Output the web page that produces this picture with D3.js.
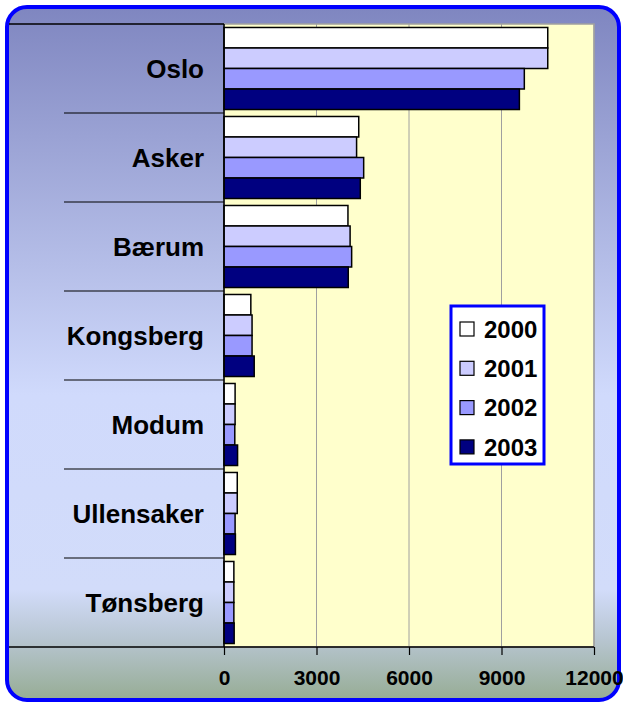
<!DOCTYPE html>
<html><head><meta charset="utf-8">
<script src="https://cdn.jsdelivr.net/npm/d3@7"></script>
<style>html,body{margin:0;padding:0;background:#fff;}svg{display:block;}</style>
</head><body>
<script>
const categories = ["Oslo","Asker","Bærum","Kongsberg","Modum","Ullensaker","Tønsberg"];
const years = ["2000","2001","2002","2003"];
const v2000 = [10500, 4370, 4020, 870, 360, 430, 320];
const v2001 = [10500, 4300, 4090, 910, 360, 430, 320];
const v2002 = [9740, 4530, 4140, 910, 350, 360, 320];
const v2003 = [9580, 4420, 4030, 980, 440, 370, 330];
const xTicks = [0, 3000, 6000, 9000, 12000];
const colors = ["#ffffff","#ccccff","#9999ff","#000080"];

const series = [v2000, v2001, v2002, v2003];
const W = 623, H = 704;
const svg = d3.select("body").append("svg").attr("width", W).attr("height", H);

const defs = svg.append("defs");
const grad = defs.append("linearGradient").attr("id","bg").attr("x1",0).attr("y1",0).attr("x2",0).attr("y2",1);
[[0,"#7f86c0"],[0.56,"#d0dafc"],[0.84,"#d2dcfa"],[0.91,"#b8c6d2"],[1,"#96ac94"]].forEach(s=>grad.append("stop").attr("offset",s[0]).attr("stop-color",s[1]));

svg.append("rect").attr("x",7).attr("y",7).attr("width",612).attr("height",693).attr("rx",20).attr("ry",20)
  .attr("fill","url(#bg)").attr("stroke","#0000ff").attr("stroke-width",4);

const x0 = 224, x1 = 594, yTop = 24, yBot = 647;
const x = d3.scaleLinear().domain([0,12000]).range([x0,x1]);
const y = d3.scaleBand().domain(categories).range([yTop,yBot]).paddingInner(0).paddingOuter(0);
const yi = d3.scaleBand().domain(years).range([0,y.bandwidth()]).paddingInner(0).paddingOuter(0.17);

// plot area
svg.append("rect").attr("x",x0).attr("y",yTop).attr("width",x1-x0).attr("height",yBot-yTop)
  .attr("fill","#ffffcc").attr("stroke","#a0a0a0").attr("stroke-width",1.5);

// gridlines
svg.append("g").selectAll("line").data(xTicks.slice(1)).join("line")
  .attr("x1",d=>x(d)).attr("x2",d=>x(d)).attr("y1",yTop).attr("y2",yBot)
  .attr("stroke","#a0a0a0").attr("stroke-width",1);

// top line over label area
svg.append("line").attr("x1",9).attr("x2",x0).attr("y1",yTop).attr("y2",yTop).attr("stroke","#000").attr("stroke-width",1.5);

// category separators
svg.append("g").selectAll("line").data(categories.slice(1)).join("line")
  .attr("x1",64).attr("x2",x0).attr("y1",d=>y(d)).attr("y2",d=>y(d))
  .attr("stroke","#000").attr("stroke-width",1.2);

// bars
const gb = svg.append("g");
categories.forEach((c,i)=>{
  years.forEach((yr,j)=>{
    gb.append("rect").attr("x",x(0)).attr("y",y(c)+yi(yr)).attr("width",x(series[j][i])-x(0)).attr("height",yi.bandwidth())
      .attr("fill",colors[j]).attr("stroke","#000").attr("stroke-width",1.5);
  });
});

// category labels
svg.append("g").selectAll("text").data(categories).join("text")
  .attr("x",204).attr("y",d=>y(d)+y.bandwidth()/2).attr("dy","0.36em")
  .attr("text-anchor","end").attr("font-family","Liberation Sans, Arial, sans-serif")
  .attr("font-weight","bold").attr("font-size",26).attr("fill","#000").text(d=>d);

// vertical axis line
svg.append("line").attr("x1",x0).attr("x2",x0).attr("y1",yTop).attr("y2",yBot).attr("stroke","#000").attr("stroke-width",1.5);

// x axis
const ax = svg.append("g").attr("transform",`translate(0,${yBot})`)
  .call(d3.axisBottom(x).tickValues(xTicks).tickSize(8).tickPadding(15).tickFormat(d3.format("d")));
ax.select(".domain").remove();
ax.selectAll(".tick line").attr("stroke","#000").attr("stroke-width",1.2);
ax.selectAll("text").attr("font-family","Liberation Sans, Arial, sans-serif").attr("font-weight","bold").attr("font-size",21).attr("fill","#000");
svg.append("line").attr("x1",9).attr("x2",x1).attr("y1",yBot).attr("y2",yBot).attr("stroke","#000").attr("stroke-width",1.5);

// legend
const lg = svg.append("g");
lg.append("rect").attr("x",451).attr("y",306).attr("width",93).attr("height",158).attr("fill","#fff").attr("stroke","#0000ff").attr("stroke-width",3);
years.forEach((yr,j)=>{
  const cy = 329 + j*39.3;
  lg.append("rect").attr("x",460).attr("y",cy-7).attr("width",14).attr("height",14).attr("fill",colors[j]).attr("stroke","#000").attr("stroke-width",1.2);
  lg.append("text").attr("x",484).attr("y",cy).attr("dy","0.36em").attr("font-family","Liberation Sans, Arial, sans-serif")
    .attr("font-weight","bold").attr("font-size",24).attr("fill","#000").text(yr);
});
</script>
</body></html>
